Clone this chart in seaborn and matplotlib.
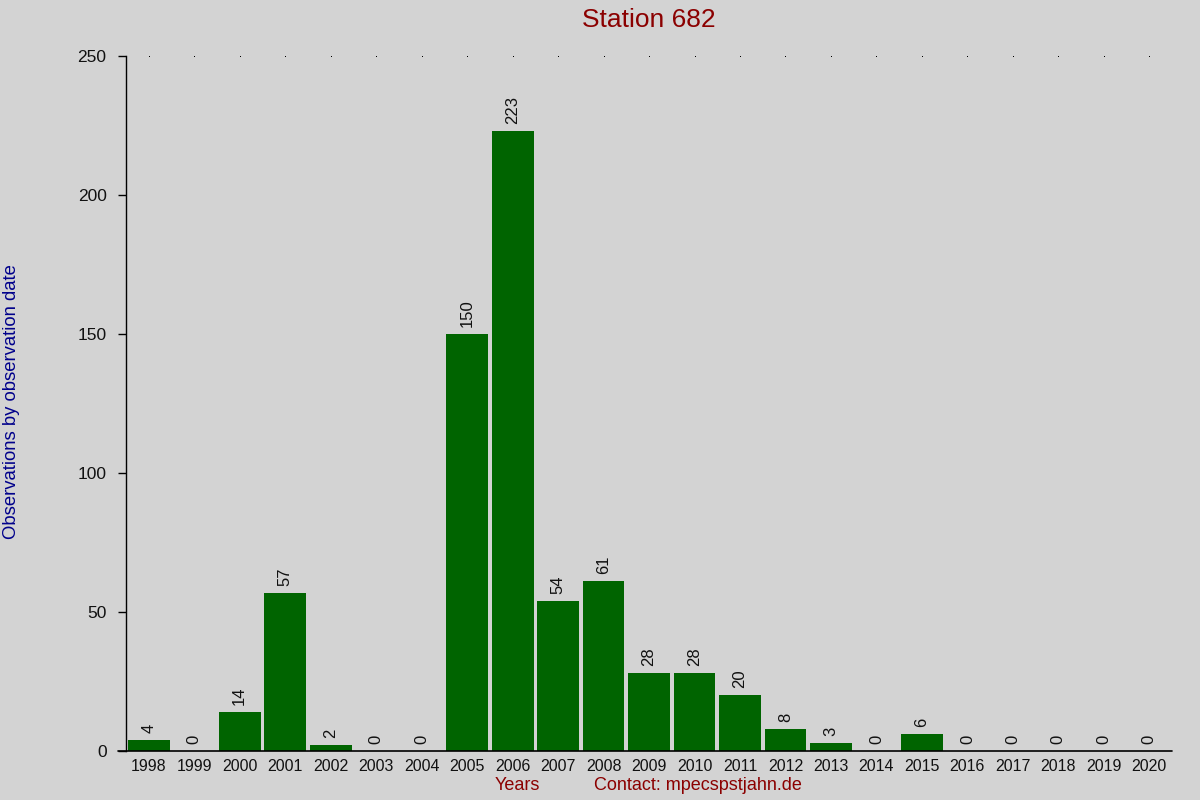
import numpy as np
import pandas as pd
import matplotlib
matplotlib.use("Agg")
import matplotlib.pyplot as plt
import seaborn as sns

# observations per year for station 682
years = [str(y) for y in range(1998, 2021)]
counts = [4, 0, 14, 57, 2, 0, 0, 150, 223, 54, 61, 28, 28, 20, 8, 3, 0, 6, 0, 0, 0, 0, 0]
yticks = [0, 50, 100, 150, 200, 250]

df = pd.DataFrame({"year": years, "count": counts})

sns.set_theme(style="white")
plt.rcParams['font.family'] = ['Liberation Sans', 'DejaVu Sans']

bg = "#d3d3d3"
fig = plt.figure(figsize=(12, 8), dpi=100, facecolor=bg)
ax = fig.add_axes([0.105, 0.06125, 0.8717, 0.86875])
ax.set_facecolor(bg)

sns.barplot(data=df, x="year", y="count", color="#006400", saturation=1,
            width=0.92, linewidth=0, ax=ax)

# count labels above bars
for cont in ax.containers:
    ax.bar_label(cont, rotation=90, padding=5, fontsize=12, color="#111111")

# dotted top grid line
ax.plot(range(len(years)), [yticks[-1]] * len(years), ls="none", marker="s",
        ms=0.7, mew=0, color="black", clip_on=False)

ax.set_xlim(-0.5, len(years) - 0.5)
ax.set_ylim(0, 250)
ax.set_yticks(yticks)
ax.set_xlabel("")
ax.set_ylabel("")
ax.tick_params(axis="y", direction="out", length=6, width=1, color="black",
               labelsize=12.5, labelcolor="#111111", pad=8, left=True)
ax.tick_params(axis="x", length=0, labelsize=11.5, labelcolor="#111111", pad=6)

for s in ["top", "right"]:
    ax.spines[s].set_visible(False)
ax.spines["left"].set_color("black")
ax.spines["left"].set_linewidth(1)
ax.spines["bottom"].set_visible(False)
ax.axhline(0, xmin=-0.008, xmax=1, color="black", lw=1.2, clip_on=False)

fig.text(0.541, 0.975, "Station 682", ha="center", va="center",
         fontsize=19, color="#8b0000")
fig.text(0.0095, 0.4975, "Observations by observation date", rotation=90,
         ha="center", va="center", fontsize=13.3, color="#00008b")
fig.text(0.431, 0.0175, "Years", ha="center", va="center",
         fontsize=13, color="#8b0000")
fig.text(0.582, 0.0175, "Contact: mpecspstjahn.de", ha="center", va="center",
         fontsize=13, color="#8b0000")

fig.savefig("out.png", dpi=100, facecolor=bg)
